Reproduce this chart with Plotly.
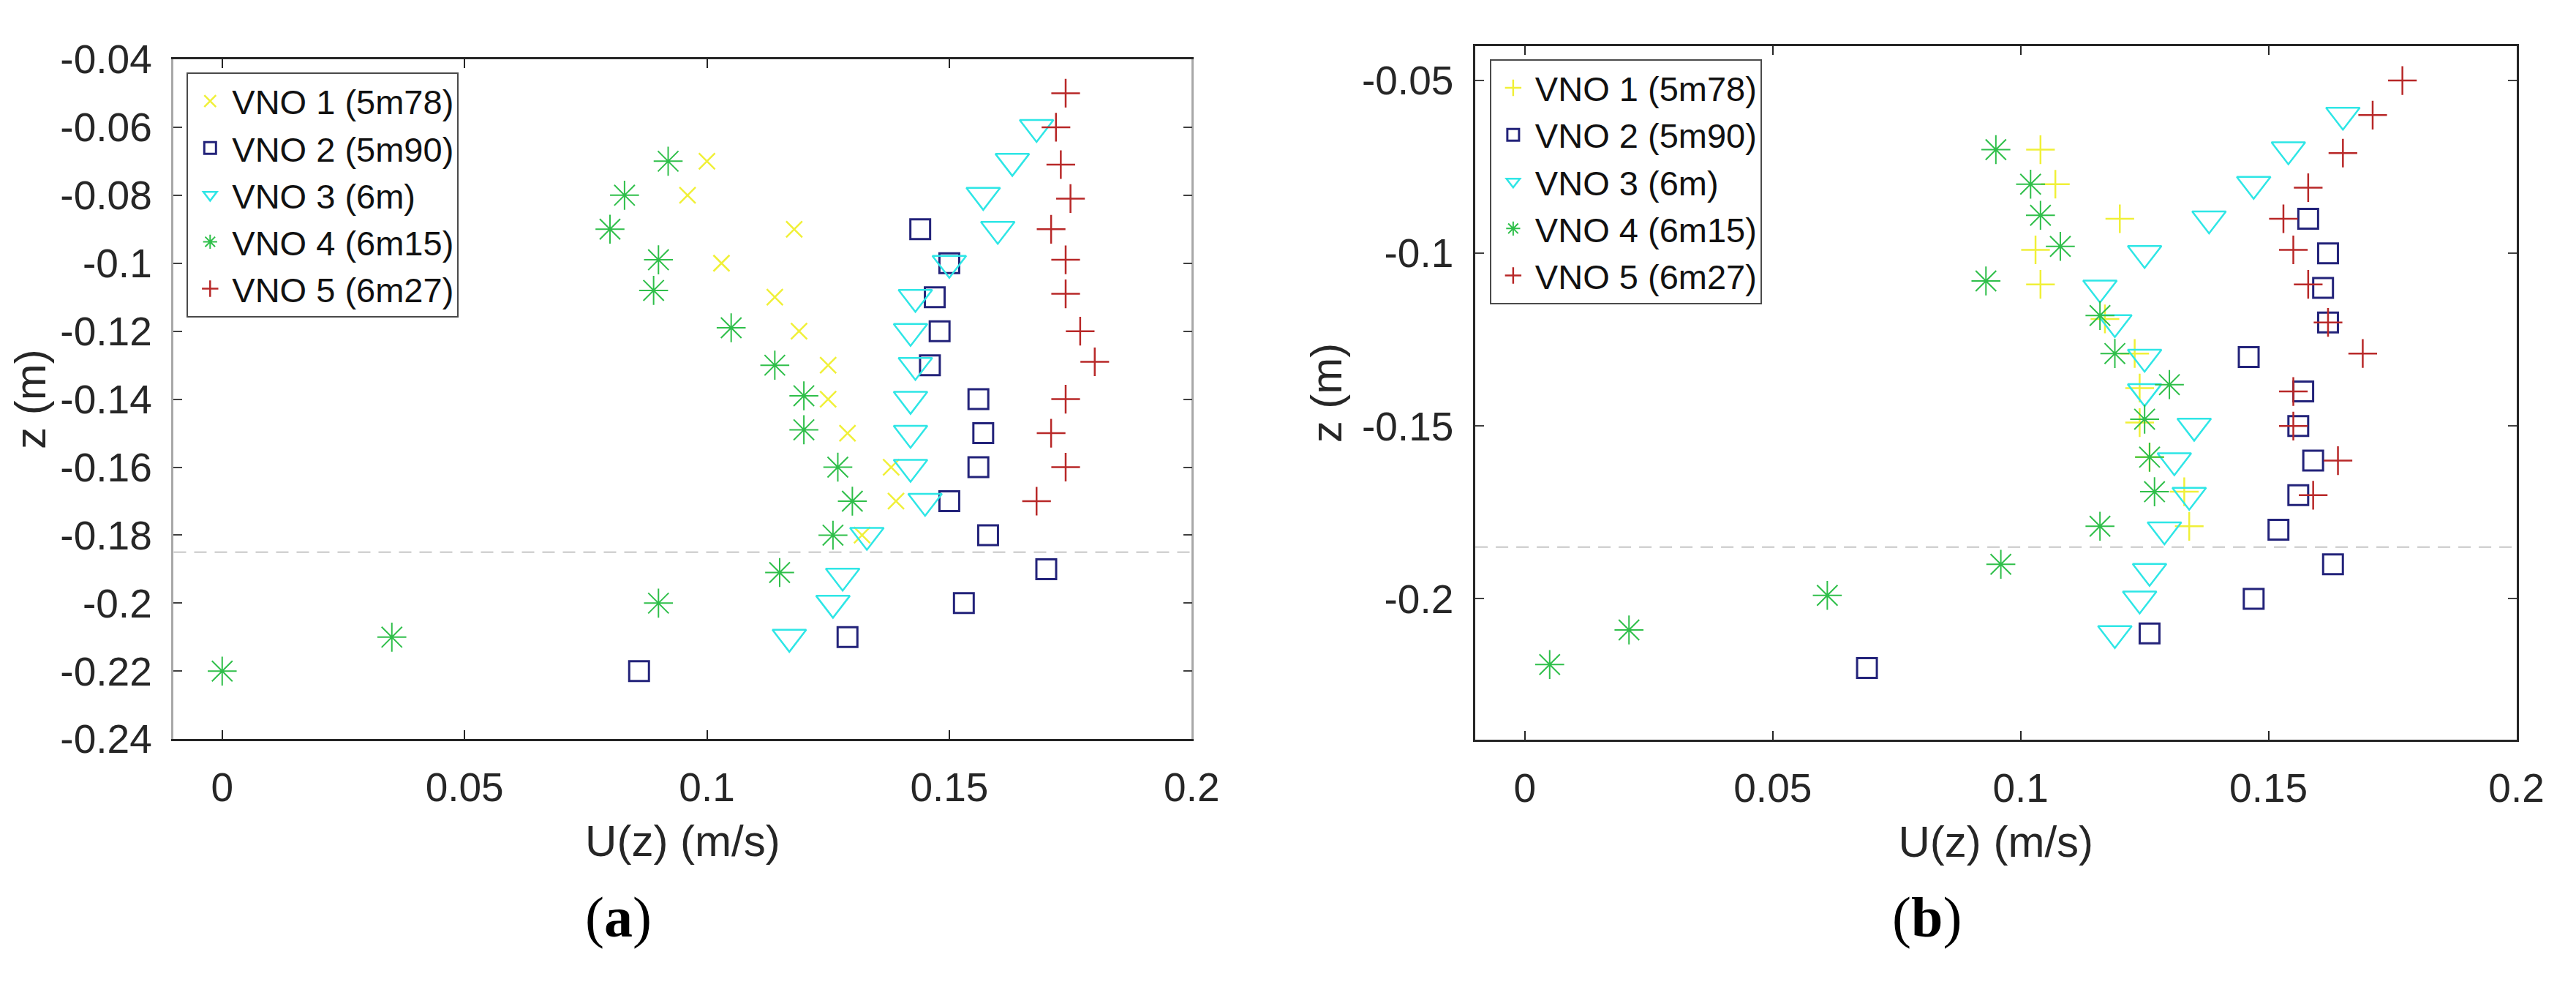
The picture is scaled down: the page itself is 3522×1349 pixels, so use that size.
import plotly.graph_objects as go

# ---- data ----
names = ['VNO 1 (5m78)', 'VNO 2 (5m90)', 'VNO 3 (6m)', 'VNO 4 (6m15)', 'VNO 5 (6m27)']

# panel (a)
z_a_vno1 = [-0.07, -0.08, -0.09, -0.10, -0.11, -0.12, -0.13, -0.14, -0.15, -0.16, -0.17, -0.18]
u_a_vno1 = [0.100, 0.096, 0.118, 0.103, 0.114, 0.119, 0.125, 0.125, 0.129, 0.138, 0.139, 0.132]
z_a_vno2 = [-0.09, -0.10, -0.11, -0.12, -0.13, -0.14, -0.15, -0.16, -0.17, -0.18, -0.19, -0.20, -0.21, -0.22]
u_a_vno2 = [0.144, 0.150, 0.147, 0.148, 0.146, 0.156, 0.157, 0.156, 0.150, 0.158, 0.170, 0.153, 0.129, 0.086]
z_a_vno3 = [-0.06, -0.07, -0.08, -0.09, -0.10, -0.11, -0.12, -0.13, -0.14, -0.15, -0.16, -0.17, -0.18, -0.192, -0.20, -0.21]
u_a_vno3 = [0.168, 0.163, 0.157, 0.160, 0.150, 0.143, 0.142, 0.143, 0.142, 0.142, 0.142, 0.145, 0.133, 0.128, 0.126, 0.117]
z_a_vno4 = [-0.07, -0.08, -0.09, -0.099, -0.108, -0.119, -0.13, -0.139, -0.149, -0.16, -0.17, -0.18, -0.191, -0.20, -0.21, -0.22]
u_a_vno4 = [0.092, 0.083, 0.080, 0.090, 0.089, 0.105, 0.114, 0.120, 0.120, 0.127, 0.130, 0.126, 0.115, 0.090, 0.035, 0.000]
z_a_vno5 = [-0.05, -0.06, -0.071, -0.081, -0.09, -0.099, -0.109, -0.12, -0.129, -0.14, -0.15, -0.16, -0.17]
u_a_vno5 = [0.174, 0.172, 0.173, 0.175, 0.171, 0.174, 0.174, 0.177, 0.180, 0.174, 0.171, 0.174, 0.168]

# panel (b)
z_b_vno1 = [-0.07, -0.08, -0.09, -0.099, -0.109, -0.119, -0.129, -0.139, -0.149, -0.159, -0.169, -0.179]
u_b_vno1 = [0.104, 0.107, 0.120, 0.103, 0.104, 0.117, 0.123, 0.124, 0.124, 0.126, 0.133, 0.134]
z_b_vno2 = [-0.09, -0.10, -0.11, -0.12, -0.13, -0.14, -0.15, -0.16, -0.17, -0.18, -0.19, -0.20, -0.21, -0.22]
u_b_vno2 = [0.158, 0.162, 0.161, 0.162, 0.146, 0.157, 0.156, 0.159, 0.156, 0.152, 0.163, 0.147, 0.126, 0.069]
z_b_vno3 = [-0.06, -0.07, -0.08, -0.09, -0.10, -0.11, -0.12, -0.13, -0.14, -0.15, -0.16, -0.17, -0.18, -0.192, -0.20, -0.21]
u_b_vno3 = [0.165, 0.154, 0.147, 0.138, 0.125, 0.116, 0.119, 0.125, 0.125, 0.135, 0.131, 0.134, 0.129, 0.126, 0.124, 0.119]
z_b_vno4 = [-0.07, -0.08, -0.089, -0.098, -0.108, -0.118, -0.129, -0.138, -0.148, -0.159, -0.169, -0.179, -0.19, -0.199, -0.209, -0.219]
u_b_vno4 = [0.095, 0.102, 0.104, 0.108, 0.093, 0.116, 0.119, 0.130, 0.125, 0.126, 0.127, 0.116, 0.096, 0.061, 0.021, 0.005]
z_b_vno5 = [-0.05, -0.06, -0.071, -0.081, -0.09, -0.099, -0.109, -0.12, -0.129, -0.14, -0.15, -0.16, -0.17]
u_b_vno5 = [0.177, 0.171, 0.165, 0.158, 0.153, 0.155, 0.158, 0.162, 0.169, 0.155, 0.155, 0.164, 0.159]

z_dashed = -0.185

x_ticks = [0, 0.05, 0.1, 0.15, 0.2]
x_ticktext = ['0', '0.05', '0.1', '0.15', '0.2']
y_ticks_a = [-0.24, -0.22, -0.2, -0.18, -0.16, -0.14, -0.12, -0.1, -0.08, -0.06, -0.04]
y_ticktext_a = ['-0.24', '-0.22', '-0.2', '-0.18', '-0.16', '-0.14', '-0.12', '-0.1', '-0.08', '-0.06', '-0.04']
y_ticks_b = [-0.2, -0.15, -0.1, -0.05]
y_ticktext_b = ['-0.2', '-0.15', '-0.1', '-0.05']

# ---- styling ----
colors = ['#f0f038', '#23237a', '#2ee6e6', '#2fbf4a', '#b82828']
font = 'Liberation Sans, Arial, sans-serif'
W, H = 3522, 1349

sym_a = ['x-thin-open', 'square-open', 'triangle-down-open', 'asterisk-open', 'cross-thin-open']
sym_b = ['cross-thin-open', 'square-open', 'triangle-down-open', 'asterisk-open', 'cross-thin-open']
sizes_a = [22, 27, 40, 33, 28]
sizes_b = [28, 27, 40, 33, 28]
widths = [2.5, 3, 2.5, 2, 2.5]

panel_a = [(u_a_vno1, z_a_vno1), (u_a_vno2, z_a_vno2), (u_a_vno3, z_a_vno3),
           (u_a_vno4, z_a_vno4), (u_a_vno5, z_a_vno5)]
panel_b = [(u_b_vno1, z_b_vno1), (u_b_vno2, z_b_vno2), (u_b_vno3, z_b_vno3),
           (u_b_vno4, z_b_vno4), (u_b_vno5, z_b_vno5)]

fig = go.Figure()
for i, (u, z) in enumerate(panel_a):
    fig.add_trace(go.Scatter(
        x=u, y=z, mode='markers', name=names[i], xaxis='x', yaxis='y', legend='legend',
        marker=dict(symbol=sym_a[i], size=sizes_a[i], color=colors[i],
                    line=dict(color=colors[i], width=widths[i]))))
for i, (u, z) in enumerate(panel_b):
    fig.add_trace(go.Scatter(
        x=u, y=z, mode='markers', name=names[i], xaxis='x2', yaxis='y2', legend='legend2',
        marker=dict(symbol=sym_b[i], size=sizes_b[i], color=colors[i],
                    line=dict(color=colors[i], width=widths[i]))))

# dashed reference level in both panels
for xr, yr in [('x', 'y'), ('x2', 'y2')]:
    fig.add_shape(type='line', xref=xr + ' domain', yref=yr, x0=0, x1=1, y0=z_dashed, y1=z_dashed,
                  line=dict(color='#d2d2d2', width=2.5, dash='17px,11px'), layer='below')


def xaxis_style(domain, anchor):
    return dict(domain=domain, anchor=anchor, range=[-0.01, 0.2],
                tickvals=x_ticks, ticktext=x_ticktext,
                ticks='inside', ticklen=12, tickwidth=2, tickcolor='#262626',
                showline=True, linecolor='#262626', linewidth=3, mirror='ticks',
                showgrid=False, zeroline=False, ticklabelstandoff=16,
                tickfont=dict(family=font, size=55, color='#262626'),
                title=dict(text='U(z) (m/s)', standoff=22,
                           font=dict(family=font, size=60, color='#262626')))


def yaxis_style(domain, anchor, rng, vals, text, linecolor):
    return dict(domain=domain, anchor=anchor, range=rng,
                tickvals=vals, ticktext=text,
                ticks='inside', ticklen=12, tickwidth=2, tickcolor='#404040',
                showline=True, linecolor=linecolor, linewidth=2.5, mirror='ticks',
                showgrid=False, zeroline=False, ticklabelstandoff=16,
                tickfont=dict(family=font, size=55, color='#262626'),
                title=dict(text='z (m)', standoff=8,
                           font=dict(family=font, size=60, color='#262626')))


legend_style = dict(xanchor='left', yanchor='top', bgcolor='white',
                    bordercolor='#4a4a4a', borderwidth=2, itemwidth=50,
                    tracegroupgap=0, font=dict(family=font, size=47, color='#111111'))

fig.update_layout(
    width=W, height=H,
    margin=dict(l=0, r=0, t=0, b=0),
    paper_bgcolor='white', plot_bgcolor='white',
    xaxis=xaxis_style([232 / W, 1639 / W], 'y'),
    yaxis=yaxis_style([1 - 1018 / H, 1 - 44 / H], 'x', [-0.24, -0.04], y_ticks_a, y_ticktext_a, '#a8a8a8'),
    xaxis2=xaxis_style([2031 / W, 3470 / W], 'y2'),
    yaxis2=yaxis_style([1 - 1019 / H, 1 - 25 / H], 'x2', [-0.2408, -0.04], y_ticks_b, y_ticktext_b, '#262626'),
    legend=dict(legend_style, x=250 / W, y=1 - 63 / H),
    legend2=dict(legend_style, x=2051 / W, y=1 - 44 / H),
    showlegend=True,
)

# panel captions
for label, xc in [('a', 847), ('b', 2655)]:
    fig.add_annotation(text='(<b>' + label + '</b>)', xref='paper', yref='paper',
                       x=xc / W, y=1 - 1273 / H, xanchor='center', yanchor='middle',
                       showarrow=False,
                       font=dict(family='Liberation Serif, Times New Roman, serif', size=78, color='black'))

fig.write_html("out.html")
